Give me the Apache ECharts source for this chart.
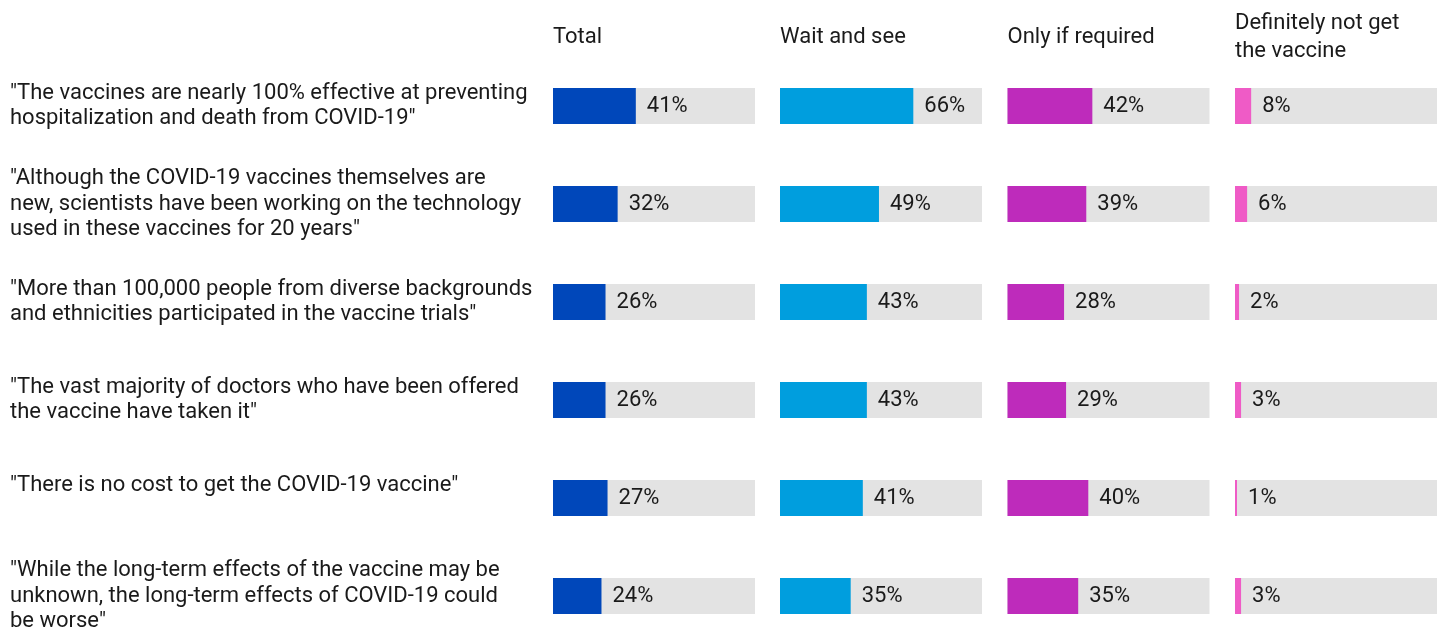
<!DOCTYPE html>
<html>
<head>
<meta charset="utf-8">
<style>
  html, body { margin: 0; padding: 0; background: #ffffff; }
  #chart { width: 1443px; height: 641px; }
</style>
<script src="https://cdn.jsdelivr.net/npm/echarts@6/dist/echarts.min.js"></script>
</head>
<body>
<div id="chart"></div>
<script>
// Statements shown to respondents (one row each)
const statements = [
  '"The vaccines are nearly 100% effective at preventing\nhospitalization and death from COVID-19"',
  '"Although the COVID-19 vaccines themselves are\nnew, scientists have been working on the technology\nused in these vaccines for 20 years"',
  '"More than 100,000 people from diverse backgrounds\nand ethnicities participated in the vaccine trials"',
  '"The vast majority of doctors who have been offered\nthe vaccine have taken it"',
  '"There is no cost to get the COVID-19 vaccine"\n',
  '"While the long-term effects of the vaccine may be\nunknown, the long-term effects of COVID-19 could\nbe worse"'
];

// Group headings
const groups = ['Total', 'Wait and see', 'Only if required', 'Definitely not get\nthe vaccine'];

// Share of each group finding the statement convincing (%)
const totalValues     = [41, 32, 26, 26, 27, 24];
const waitAndSee      = [66, 49, 43, 43, 41, 35];
const onlyIfRequired  = [42, 39, 28, 29, 40, 35];
const definitelyNot   = [8, 6, 2, 3, 1, 3];

const groupValues = [totalValues, waitAndSee, onlyIfRequired, definitelyNot];
const groupColors = ['#0047BA', '#009EDE', '#BE2BBB', '#EF5BC6'];

const FONT = 'Roboto, "Noto Sans", sans-serif';
const panelLeft = [553, 780, 1007.5, 1235];
const panelWidth = 202;

const grids = [], xAxes = [], yAxes = [], series = [], titles = [];

groups.forEach((name, i) => {
  // rows sit on the category ticks: first at the grid top, last at its bottom
  grids.push({ left: panelLeft[i], width: panelWidth, top: 106, height: 490, containLabel: false });
  xAxes.push({
    gridIndex: i, type: 'value', min: 0, max: 100, show: false
  });
  yAxes.push({
    gridIndex: i, type: 'category', data: statements, inverse: true, boundaryGap: false,
    axisLine: { show: false }, axisTick: { show: false }, splitLine: { show: false },
    axisLabel: i === 0 ? {
      show: true, align: 'left', margin: 543,
      fontFamily: FONT, fontSize: 22, lineHeight: 25.5, color: '#1a1a1a'
    } : { show: false }
  });
  series.push({
    type: 'bar', xAxisIndex: i, yAxisIndex: i,
    data: groupValues[i], barWidth: 36,
    itemStyle: { color: groupColors[i] },
    showBackground: true,
    backgroundStyle: { color: '#E3E3E3' },
    label: {
      show: true, position: 'right', distance: 11,
      formatter: '{c}%', fontFamily: FONT, fontSize: 22, color: '#1a1a1a'
    },
    animation: false
  });
  const lines = name.split('\n').length;
  titles.push({
    text: name, left: panelLeft[i], top: 37 - lines * 14, padding: 0,
    textStyle: { fontFamily: FONT, fontSize: 22, fontWeight: 'normal', color: '#1a1a1a', lineHeight: 28 }
  });
});

const chart = echarts.init(document.getElementById('chart'), null, { renderer: 'canvas' });
chart.setOption({
  backgroundColor: '#ffffff',
  animation: false,
  title: titles,
  grid: grids,
  xAxis: xAxes,
  yAxis: yAxes,
  series: series
});
</script>
</body>
</html>
